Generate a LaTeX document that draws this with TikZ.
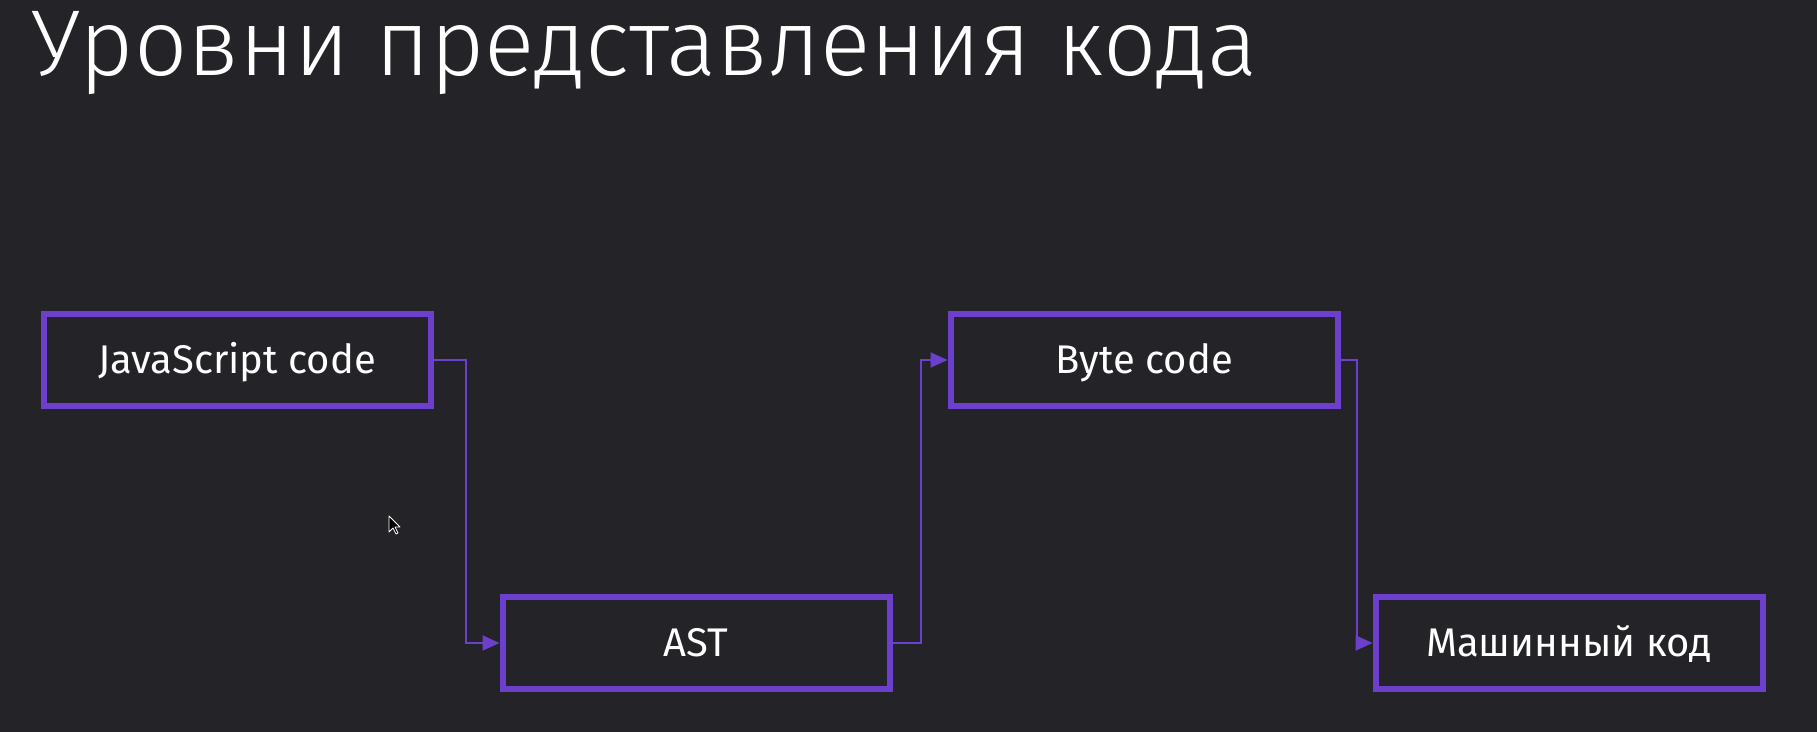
\documentclass[tikz,border=0pt]{standalone}
\usepackage{fontspec}
\setmainfont{Fira Sans}
\IfFontExistsTF{Fira Sans Light}{\newfontfamily\titlefont{Fira Sans Light}}{\newfontfamily\titlefont{Fira Sans}}
\usepackage{xcolor}
\usetikzlibrary{arrows.meta}

\definecolor{slidebg}{RGB}{35,35,40}
\definecolor{boxviolet}{RGB}{108,64,204}

\begin{document}
\begin{tikzpicture}[x=0.5pt,y=-0.5pt,
  stage/.style={draw=boxviolet,line width=3pt,minimum width=193.5pt,minimum height=46pt,
    inner sep=0pt,text=white,font=\fontsize{20pt}{23pt}\selectfont,
    text height=13.8pt,text depth=0pt},
  flow/.style={draw=boxviolet,line width=1pt,-{Triangle[length=8.5pt,width=7.5pt]}}]

    \fill[slidebg] (0,0) rectangle (1817,732);
    \useasboundingbox (0,0) rectangle (1817,732);

    \node[anchor=base west,inner sep=0pt,text=white,
      font=\titlefont\fontsize{46.8pt}{50pt}\selectfont] (title) at (31,76)
      {Уровни представления кода};

    \node[stage] (js)   at (237,360)  {JavaScript code};
    \node[stage] (ast)  at (696,643)  {AST};
    \node[stage] (byte) at (1144,360) {Byte code};
    \node[stage] (mach) at (1569,643) {Машинный код};

    \draw[flow] (js.east)   -- ++(32,0) |- (ast.west);
    \draw[flow] (ast.east)  -- ++(28,0) |- (byte.west);
    \draw[flow] (byte.east) -- ++(16,0) |- (mach.west);

    % mouse pointer
    \draw[white,fill=black,line width=0.4pt,line join=round]
      (389,516) -- (389,532) -- (393,528) -- (396,534) -- (398,533) -- (395,527) -- (400,527) -- cycle;

\end{tikzpicture}
\end{document}
